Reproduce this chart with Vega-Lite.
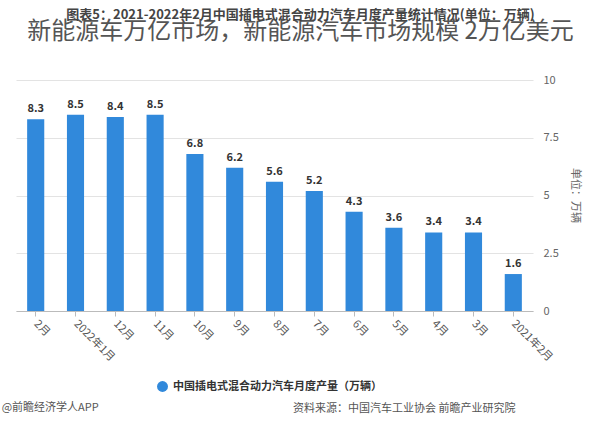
{
  "$schema": "https://vega.github.io/schema/vega-lite/v6.json",
  "width": 517,
  "height": 231,
  "autosize": {"type": "none"},
  "padding": {"left": 16, "top": 80, "right": 67, "bottom": 134},
  "background": "white",
  "config": {
    "font": "Noto Sans CJK SC",
    "view": {"stroke": null}
  },
  "title": {
    "text": "新能源车万亿市场，新能源汽车市场规模 2万亿美元",
    "subtitle": "图表5：2021-2022年2月中国插电式混合动力汽车月度产量统计情况(单位：万辆)",
    "anchor": "middle",
    "frame": "group",
    "dx": 26,
    "offset": 19,
    "fontSize": 24,
    "fontWeight": "normal",
    "color": "#555555",
    "subtitleFontSize": 13,
    "subtitleFontWeight": "bold",
    "subtitleColor": "#444444",
    "subtitlePadding": -35
  },
  "datasets": {
    "bars": [
      {"month": "2月", "v": 8.3, "s": "中国插电式混合动力汽车月度产量（万辆）"},
      {"month": "2022年1月", "v": 8.5, "s": "中国插电式混合动力汽车月度产量（万辆）"},
      {"month": "12月", "v": 8.4, "s": "中国插电式混合动力汽车月度产量（万辆）"},
      {"month": "11月", "v": 8.5, "s": "中国插电式混合动力汽车月度产量（万辆）"},
      {"month": "10月", "v": 6.8, "s": "中国插电式混合动力汽车月度产量（万辆）"},
      {"month": "9月", "v": 6.2, "s": "中国插电式混合动力汽车月度产量（万辆）"},
      {"month": "8月", "v": 5.6, "s": "中国插电式混合动力汽车月度产量（万辆）"},
      {"month": "7月", "v": 5.2, "s": "中国插电式混合动力汽车月度产量（万辆）"},
      {"month": "6月", "v": 4.3, "s": "中国插电式混合动力汽车月度产量（万辆）"},
      {"month": "5月", "v": 3.6, "s": "中国插电式混合动力汽车月度产量（万辆）"},
      {"month": "4月", "v": 3.4, "s": "中国插电式混合动力汽车月度产量（万辆）"},
      {"month": "3月", "v": 3.4, "s": "中国插电式混合动力汽车月度产量（万辆）"},
      {"month": "2021年2月", "v": 1.6, "s": "中国插电式混合动力汽车月度产量（万辆）"}
    ],
    "notes": [
      {"note": "@前瞻经济学人APP", "month": "2月", "v": -4.2}
    ]
  },
  "data": {"name": "bars"},
  "encoding": {
    "x": {
      "field": "month",
      "type": "nominal",
      "sort": null,
      "scale": {"paddingInner": 0.57, "paddingOuter": 0.28},
      "axis": {
        "labelAngle": 45,
        "labelAlign": "left",
        "labelBaseline": "middle",
        "labelColor": "#555555",
        "labelFontSize": 11,
        "labelPadding": 6,
        "domainColor": "#bbbbbb",
        "tickColor": "#bbbbbb",
        "tickSize": 5,
        "title": "资料来源：中国汽车工业协会 前瞻产业研究院",
        "titleX": 499,
        "titleY": 97,
        "titleAlign": "right",
        "titleBaseline": "middle",
        "titleFontSize": 11,
        "titleFontWeight": "normal",
        "titleColor": "#555555"
      }
    },
    "y": {
      "field": "v",
      "type": "quantitative",
      "scale": {"domain": [0, 10]},
      "axis": {
        "orient": "right",
        "values": [0, 2.5, 5, 7.5, 10],
        "format": ".2~f",
        "domain": false,
        "ticks": false,
        "labelPadding": 10,
        "labelColor": "#666666",
        "labelFontSize": 11,
        "gridColor": "#e3e3e3",
        "title": "单位：万辆",
        "titleAngle": 90,
        "titleX": 36,
        "titleY": 115,
        "titleAlign": "center",
        "titleFontSize": 11,
        "titleFontWeight": "normal",
        "titleColor": "#666666"
      }
    }
  },
  "layer": [
    {
      "mark": {"type": "bar", "color": "#3189DB"},
      "encoding": {
        "color": {
          "field": "s",
          "type": "nominal",
          "scale": {"range": ["#3189DB"]},
          "legend": {
            "orient": "none",
            "legendX": 140,
            "legendY": 300,
            "title": null,
            "symbolType": "circle",
            "symbolSize": 120,
            "labelFontSize": 11,
            "labelLimit": 400,
            "labelColor": "#333333",
            "labelFontWeight": "bold"
          }
        }
      }
    },
    {
      "mark": {"type": "text", "dy": -10, "fontSize": 11, "fontWeight": "bold", "color": "#333333"},
      "encoding": {
        "text": {"field": "v", "type": "quantitative", "format": ".1f"}
      }
    },
    {
      "data": {"name": "notes"},
      "mark": {"type": "text", "align": "left", "baseline": "middle", "dx": -34, "fontSize": 11, "color": "#555555"},
      "encoding": {
        "text": {"field": "note", "type": "nominal"}
      }
    }
  ]
}
